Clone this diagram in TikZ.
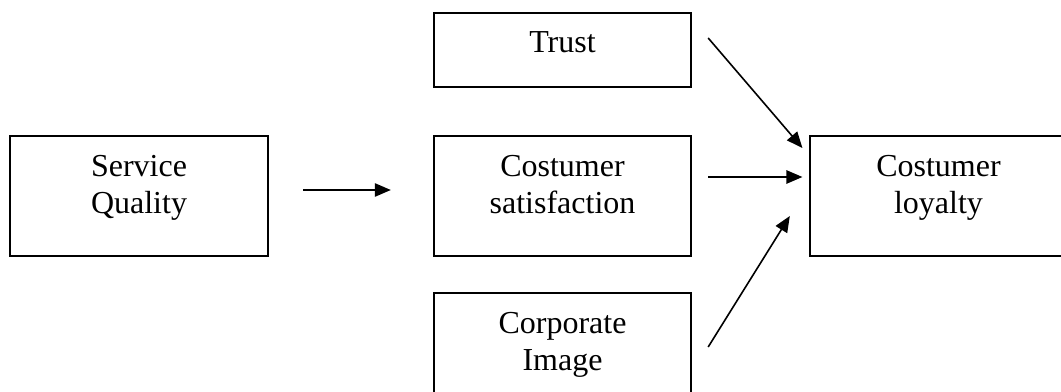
\documentclass[tikz,border=0pt]{standalone}
\usepackage{fontspec}
\setmainfont{Liberation Serif}
\usetikzlibrary{arrows.meta}
\begin{document}
\begin{tikzpicture}[
	x=0.375pt, y=-0.375pt,
	every node/.style={font=\fontsize{12}{13.8}\selectfont, align=center},
	boxnode/.style={shape=rectangle, draw=black, line width=0.75pt, minimum width=96.5pt, minimum height=45pt, inner sep=2pt, text height=16pt, text depth=3.2pt},
	smallbox/.style={boxnode, minimum height=27.75pt, text height=5pt, text depth=3pt},
	link/.style={line width=0.6pt, -{Triangle[length=6pt,width=5pt]}},
] 
\clip (0,0) rectangle (1061,392);
\node[boxnode] (quality) at (139,196) {Service\\Quality};
\node[smallbox] (trust) at (562.5,50) {Trust};
\node[boxnode] (satisf) at (562.5,196) {Costumer\\satisfaction};
\node[boxnode] (image) at (562.5,353) {Corporate\\Image};
\node[boxnode] (loyal) at (938.5,196) {Costumer\\loyalty};
\draw[link] ([shift={(34.5,-6)}]quality.east) -- ([shift={(-42,-6)}]satisf.west);
\draw[link] ([shift={(16,-12)}]trust.east) -- ([shift={(-6.4,13)}]loyal.north west);
\draw[link] ([shift={(16,-19)}]satisf.east) -- ([shift={(-6.4,-19)}]loyal.west);
\draw[link] ([shift={(16,-6)}]image.east) -- ([shift={(-19,-41)}]loyal.south west);
\end{tikzpicture}
\end{document}
